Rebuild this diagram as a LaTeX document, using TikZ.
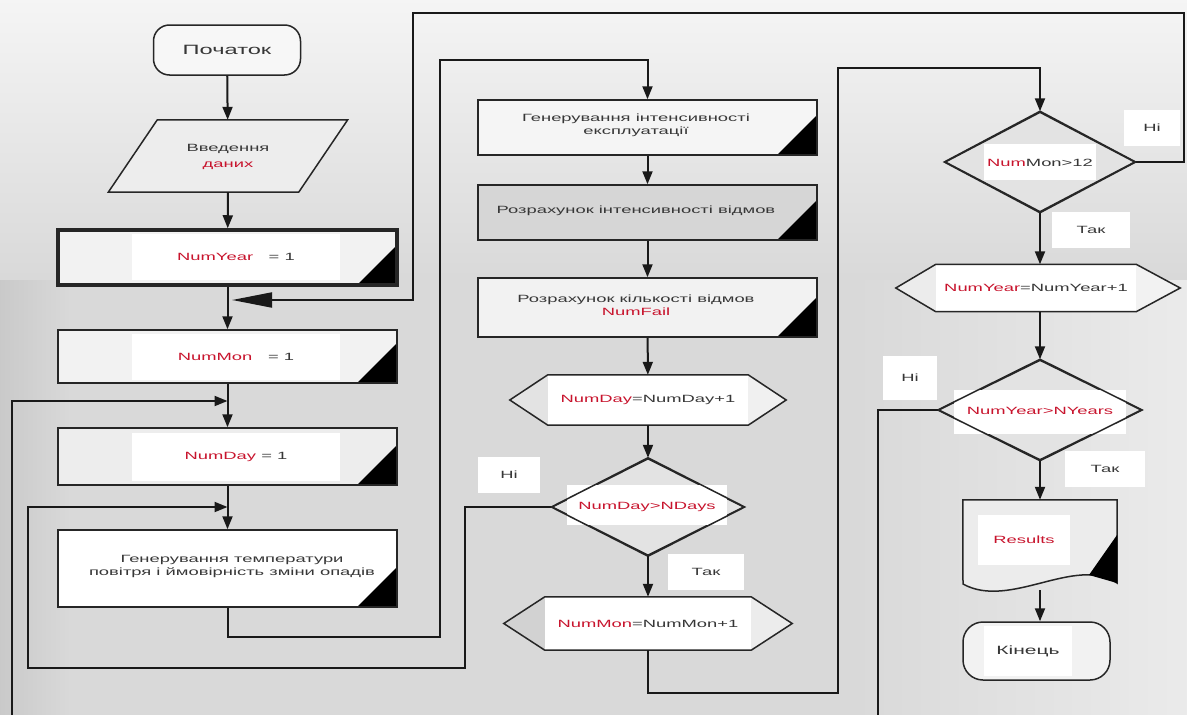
\documentclass[tikz,border=0pt]{standalone}
\usepackage{fontspec}
\setmainfont{Liberation Sans}[FakeStretch=1.75]
\usetikzlibrary{arrows.meta,shapes.geometric,calc}
\definecolor{varred}{RGB}{200,20,45}
\definecolor{txt}{RGB}{55,55,55}
\newcommand{\vr}[1]{\textcolor{varred}{#1}}
\begin{document}
\begin{tikzpicture}[x=1pt,y=-1pt,
  every node/.style={font=\fontsize{10.5}{13}\selectfont, text=txt, align=center, inner sep=0pt},
  flow/.style={line width=2pt, draw=black!90},
  arr/.style={flow, -{Triangle[length=13pt,width=10pt]}},
  bigarr/.style={flow, -{Triangle[length=40pt,width=15pt]}},
  shp/.style={draw=black!85, line width=1.5pt},
  proc/.style={shp, minimum width=339pt,
    path picture={\fill[black] (path picture bounding box.south east) -- ++(0,-40) -- ++(-40,40) -- cycle;}},
  lab/.style={fill=white},
  dec/.style={diamond, shp, fill=gray!22, aspect=2},
  term/.style={shp, rounded corners=16pt, fill=gray!6, font=\fontsize{13.5}{16}\selectfont},
  yn/.style={fill=white, minimum width=56pt, minimum height=36pt},
]
\useasboundingbox (0,0) rectangle (1187,715);
\clip (0,0) rectangle (1187,715);
% background
\fill[gray!30] (0,0) rectangle (1187,715);
\shade[top color=gray!8, bottom color=gray!30] (0,0) rectangle (1187,280);
\shade[left color=gray!30, right color=gray!16] (850,280) rectangle (1187,715);
\shade[left color=gray!42, right color=gray!30] (0,280) rectangle (70,715);

% ---------- left column ----------
\node[term, minimum width=147pt, minimum height=50pt] (start) at (227,50) {Початок};

\node[minimum width=190pt, minimum height=72pt] (input) at (228,156) {};
\draw[shp, fill=gray!14] ([xshift=24.5pt]input.north west) -- ([xshift=24.5pt]input.north east)
  -- ([xshift=-24.5pt]input.south east) -- ([xshift=-24.5pt]input.south west) -- cycle;
\node (inputtxt) at (228,157) {Введення\\[3pt]\vr{даних}};

\node[proc, fill=gray!10, line width=3.5pt, minimum height=55pt] (year) at (227.5,257.5) {};
\node[lab, minimum width=208pt, minimum height=46pt] (yeartxt) at (236,257) {\vr{NumYear}\quad\ = 1};

\node[proc, fill=gray!10, minimum height=53pt] (mon) at (227.5,356.5) {};
\node[lab, minimum width=208pt, minimum height=46pt] (montxt) at (236,356.5) {\vr{NumMon}\quad\ = 1};

\node[proc, fill=gray!14, minimum height=57pt] (day) at (227.5,456.5) {};
\node[lab, minimum width=208pt, minimum height=48pt] (daytxt) at (236,456.5) {\vr{NumDay} = 1};

\node[proc, fill=white, minimum height=77pt] (genT) at (227.5,568.5) {};
\node (genTtxt) at (232,566) {Генерування температури\\повітря і ймовірність зміни опадів};

% ---------- middle column ----------
\node[proc, fill=gray!8, minimum height=55pt] (genI) at (647.5,127.5) {};
\node (genItxt) at (636,125) {Генерування інтенсивності\\експлуатації};

\node[proc, fill=gray!32, minimum height=55pt] (rozI) at (647.5,212.5) {};
\node (rozItxt) at (636,211) {Розрахунок інтенсивності відмов};

\node[proc, fill=gray!10, minimum height=59pt] (rozK) at (647.5,307.5) {};
\node (rozKtxt) at (636,305) {Розрахунок кількості відмов\\\vr{NumFail}};

\node[lab, minimum width=200pt, minimum height=50pt] (incDay) at (648,400) {\vr{NumDay}=NumDay+1};
\fill[gray!22] (incDay.north west) -- ([xshift=-38pt]incDay.west) -- (incDay.south west) -- cycle;
\fill[gray!12] (incDay.north east) -- ([xshift=38pt]incDay.east) -- (incDay.south east) -- cycle;
\draw[shp] (incDay.north west) -- (incDay.north east) -- ([xshift=38pt]incDay.east) -- (incDay.south east)
  -- (incDay.south west) -- ([xshift=-38pt]incDay.west) -- cycle;

\node[dec, minimum width=192pt, minimum height=97pt] (d1) at (648,507) {};
\node[lab, minimum width=160pt, minimum height=40pt] (d1bg) at (647,505) {};
\draw[shp] (d1.north) -- (d1.east) -- (d1.south) -- (d1.west) -- cycle;
\node (d1txt) at (647,507) {\vr{NumDay>NDays}};

\node[lab, minimum width=206pt, minimum height=53pt] (incMon) at (648,623.5) {\vr{NumMon}=NumMon+1};
\fill[gray!35] (incMon.north west) -- ([xshift=-41pt]incMon.west) -- (incMon.south west) -- cycle;
\fill[gray!15] (incMon.north east) -- ([xshift=41pt]incMon.east) -- (incMon.south east) -- cycle;
\draw[shp] (incMon.north west) -- (incMon.north east) -- ([xshift=41pt]incMon.east) -- (incMon.south east)
  -- (incMon.south west) -- ([xshift=-41pt]incMon.west) -- cycle;

% ---------- right column ----------
\node[dec, minimum width=190pt, minimum height=100pt] (d2) at (1040,162) {};
\node[lab, minimum width=112pt, minimum height=36pt] (d2bg) at (1040,162) {};
\draw[shp] (d2.north) -- (d2.east) -- (d2.south) -- (d2.west) -- cycle;
\node (d2txt) at (1040,163) {\vr{Num}Mon>12};

\node[lab, minimum width=200pt, minimum height=47pt] (incYear) at (1036,288) {\vr{NumYear}=NumYear+1};
\fill[gray!15] (incYear.north west) -- ([xshift=-40pt]incYear.west) -- (incYear.south west) -- cycle;
\fill[gray!10] (incYear.north east) -- ([xshift=44pt]incYear.east) -- (incYear.south east) -- cycle;
\draw[shp] (incYear.north west) -- (incYear.north east) -- ([xshift=44pt]incYear.east) -- (incYear.south east)
  -- (incYear.south west) -- ([xshift=-40pt]incYear.west) -- cycle;

\node[dec, minimum width=203pt, minimum height=100pt] (d3) at (1040,410) {};
\node[lab, minimum width=172pt, minimum height=44pt] (d3bg) at (1040,412) {};
\draw[shp] (d3.north) -- (d3.east) -- (d3.south) -- (d3.west) -- cycle;
\node (d3txt) at (1040,411) {\vr{NumYear>NYears}};

\node[minimum width=154pt, minimum height=90pt] (out) at (1040,545) {};
\draw[shp, fill=gray!15] (out.north west) -- (out.north east) -- (1117,583)
  .. controls (1075,555) and (1010,610) .. (963,584) -- cycle;
\fill[black] (1117,535) -- (1117,583) -- (1089,575) -- cycle;
\node[lab, minimum width=92pt, minimum height=50pt] (outtxt) at (1024,540) {\vr{Results}};

\node[term, fill=gray!10, minimum width=147pt, minimum height=58pt, rounded corners=20pt] (end) at (1036.5,651) {};
\node[lab, minimum width=88pt, minimum height=50pt, font=\fontsize{12}{14}\selectfont] (endtxt) at (1028,651) {Кінець};

% ---------- yes / no labels ----------
\node[yn, minimum width=62pt] (n1) at (509,475) {Ні};
\node[yn, minimum width=76pt] (y1) at (706,572) {Так};
\node[yn, minimum width=56pt] (n2) at (1152,128) {Ні};
\node[yn, minimum width=78pt] (y2) at (1091,230) {Так};
\node[yn, minimum width=54pt, minimum height=44pt] (n3) at (910,378) {Ні};
\node[yn, minimum width=80pt] (y3) at (1105,469) {Так};

% ---------- coordinates ----------
\coordinate (c1) at (440,637);
\coordinate (c2) at (440,60);
\coordinate (c3) at (838,693);
\coordinate (c4) at (838,68);
\coordinate (c5) at (1184,162);
\coordinate (c6) at (1184,13);
\coordinate (c7) at (413,13);
\coordinate (j1) at (232,300);
\coordinate (c8) at (465,668);
\coordinate (c9) at (28,668);
\coordinate (j2) at (227.5,507);
\coordinate (c10) at (878,740);
\coordinate (c11) at (12,740);
\coordinate (j3) at (227.5,401);

% ---------- connectors ----------
\draw[arr] (start) -- (input);
\draw[arr] (input.south) -- (year);
\draw[arr] (year) -- (mon);
\draw[arr] (mon) -- (day);
\draw[arr] (day) -- (genT);
\draw[arr] (genT.south) |- (c1) -- (c2) -| (genI.north);
\draw[arr] (genI) -- (rozI);
\draw[arr] (rozI) -- (rozK);
\draw[arr] (rozK) -- (incDay);
\draw[arr] (incDay.south) -- (d1.north);
\draw[arr] (d1.south) -- (incMon.north);
\draw[arr] (d1.west) -| (c8) -- (c9) |- (j2);
\draw[arr] (incMon.south) |- (c3) -- (c4) -| (d2.north);
\draw[bigarr] (d2.east) -- (c5) -- (c6) -- (c7) |- (j1);
\draw[arr] (d2.south) -- (incYear.north -| d2.south);
\draw[arr] (incYear.south -| d3.north) -- (d3.north);
\draw[arr] (d3.west) -| (c10) -- (c11) |- (j3);
\draw[arr] (d3.south) -- (out.north);
\draw[arr] (out.south) -- (end.north -| out.south);
\end{tikzpicture}
\end{document}
